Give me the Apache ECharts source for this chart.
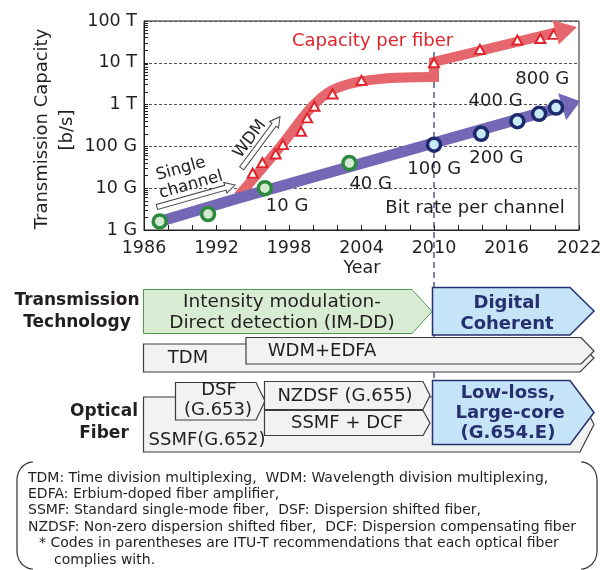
<!DOCTYPE html>
<html>
<head>
<meta charset="utf-8">
<script src="https://cdn.jsdelivr.net/npm/echarts@6.0.0/dist/echarts.min.js"></script>
<style>
  html, body { margin: 0; padding: 0; background: #fff; }
  #chart { width: 613px; height: 570px; }
</style>
</head>
<body>
<div id="chart"></div>
<script>
const FONT = "DejaVu Sans";
const INK = "#231f20";
const RED = "#e0242c";
const RED_BAND = "#e5676d";
const PURPLE = "#7367b6";
const NAVY = "#27306e";

// axes
const yearTicks = [1986, 1992, 1998, 2004, 2010, 2016, 2022];
const capacityTicks = [1e9, 1e10, 1e11, 1e12, 1e13, 1e14];
const capacityTickLabels = ["1 G", "10 G", "100 G", "1 T", "10 T", "100 T"];

// capacity per fiber (red triangles)
const fiberYears = [1995.0, 1995.8, 1996.9, 1997.5, 1999.0, 1999.5, 2000.1, 2001.6, 2004.0, 2010.0, 2013.8, 2016.9, 2018.8, 2019.9];
const fiberCapacity = [2.3e10, 4.1e10, 6.6e10, 1.1e11, 2.3e11, 4.8e11, 9.1e11, 1.8e12, 3.8e12, 1.0e13, 2.1e13, 3.5e13, 3.8e13, 4.8e13];

// red trend band: curved part, then the step at 2010 and the arrow
const fiberTrendYears = [1993.8, 1997.3, 1999.3, 2000.6, 2002.0, 2004.0, 2006.9, 2010.0];
const fiberTrendValues = [6.5e9, 1e11, 5.6e11, 1.4e12, 2.5e12, 3.6e12, 4.4e12, 4.6e12];
const fiberStepYears = [2010.0, 2010.0, 2020.05];
const fiberStepValues = [4.6e12, 1.05e13, 5.3e13];
const fiberArrowHead = [2020.95, 6.2e13];

// bit rate per channel
const imddYears = [1987.3, 1991.3, 1996.0, 2003.0];
const imddRates = [1.6e9, 2.4e9, 1e10, 4e10];
const imddLabels = ["", "", "10 G", "40 G"];
const coherentYears = [2010.0, 2013.9, 2016.9, 2018.7, 2020.1];
const coherentRates = [1.1e11, 2e11, 4e11, 6e11, 8.5e11];
const coherentLabels = ["100 G", "200 G", "400 G", "", "800 G"];
const rateTrendYears = [1987.3, 1994.0, 2020.65];
const rateTrendValues = [1.6e9, 6e9, 8.95e11];
const rateArrowHead = [2021.36, 1.03e12];

// where each rate label's centre sits relative to its circle centre (px)
const labelOffsets = {
  "10 G": [24, 20], "40 G": [23, 23], "100 G": [2, 26],
  "200 G": [17, 26], "400 G": [-20, -18], "800 G": [-12, -26]
};

const CIRCLE = 13;
const zip = (xs, ys) => xs.map((x, i) => [x, ys[i]]);

// log minor ticks 1..9 in every decade
const yTicks = [];
capacityTicks.forEach((v, i) => {
  if (i === capacityTicks.length - 1) { yTicks.push(v); return; }
  for (let k = 1; k < 10; k++) yTicks.push(v * k);
});

function pointsWithLabels(xs, ys, labels) {
  return xs.map((x, i) => {
    const lab = labels[i];
    if (!lab) return { value: [x, ys[i]], label: { show: false } };
    const off = labelOffsets[lab];
    return {
      value: [x, ys[i]],
      label: { show: true, formatter: lab, position: [CIRCLE / 2 + off[0], CIRCLE / 2 + off[1]] }
    };
  });
}

function arrowHead(color, size, from, to) {
  return {
    silent: true,
    animation: false,
    symbol: ["none", "triangle"],
    symbolSize: size,
    label: { show: false },
    lineStyle: { color: color, width: 1, type: "solid" },
    itemStyle: { color: color },
    emphasis: { disabled: true },
    data: [[{ coord: from }, { coord: to }]]
  };
}

const rateLabel = {
  fontSize: 18, color: INK, fontFamily: FONT, align: "center", verticalAlign: "middle",
  textBorderWidth: 0
};

const chart = echarts.init(document.getElementById("chart"));

const option = {
  animation: false,
  textStyle: { fontFamily: FONT, color: INK },
  grid: { left: 144, right: 34, top: 21, bottom: 340, show: true, borderColor: INK, borderWidth: 1 },
  xAxis: {
    type: "value", min: 1986, max: 2022, interval: 2,
    axisLine: { lineStyle: { color: INK } },
    axisTick: { inside: true, length: 5, lineStyle: { color: INK } },
    axisLabel: {
      fontSize: 17.5, color: INK, margin: 9, fontFamily: FONT,
      formatter: v => yearTicks.includes(v) ? String(v) : ""
    },
    splitLine: { show: false }
  },
  yAxis: [
    {
      type: "log", logBase: 10, min: 1e9, max: 1e14,
      axisLine: { lineStyle: { color: INK } },
      axisTick: { inside: true, length: 4, customValues: yTicks, lineStyle: { color: INK } },
      axisLabel: {
        fontSize: 17.5, color: INK, margin: 7, fontFamily: FONT,
        formatter: v => capacityTickLabels[Math.round(Math.log10(v)) - 9] || ""
      },
      splitLine: { show: false }
    },
    {
      // decade grid lines only
      type: "log", logBase: 10, min: 1e9, max: 1e14, position: "left",
      axisLine: { show: false }, axisTick: { show: false }, axisLabel: { show: false },
      splitLine: { show: true, lineStyle: { color: "#555", type: [3, 2], width: 1 } }
    }
  ],
  series: [
    {
      type: "line", data: zip(fiberTrendYears, fiberTrendValues), smooth: 0.45,
      symbol: "none", clip: false, silent: true, z: 2,
      lineStyle: { color: RED_BAND, width: 10, cap: "butt", join: "round" }
    },
    {
      type: "line", data: zip(fiberStepYears, fiberStepValues),
      symbol: "none", clip: false, silent: true, z: 2,
      lineStyle: { color: RED_BAND, width: 10, cap: "square", join: "miter" },
      markLine: arrowHead(RED_BAND, [25, 22], [fiberStepYears[2], fiberStepValues[2]], fiberArrowHead)
    },
    {
      type: "line", data: zip(rateTrendYears, rateTrendValues),
      symbol: "none", clip: false, silent: true, z: 3,
      lineStyle: { color: PURPLE, width: 11, cap: "butt", join: "round" },
      markLine: arrowHead(PURPLE, [28, 19], [rateTrendYears[2], rateTrendValues[2]], rateArrowHead)
    },
    {
      type: "scatter", data: zip(fiberYears, fiberCapacity), z: 4,
      symbol: "triangle", symbolSize: [10, 9], clip: false,
      itemStyle: { color: "#fff", borderColor: RED, borderWidth: 2, opacity: 1 }
    },
    {
      type: "scatter", data: pointsWithLabels(imddYears, imddRates, imddLabels), z: 5,
      symbol: "circle", symbolSize: CIRCLE, clip: false,
      itemStyle: { color: "#d4ead0", borderColor: "#2b8a3e", borderWidth: 3.5, opacity: 1 },
      label: rateLabel
    },
    {
      type: "scatter", data: pointsWithLabels(coherentYears, coherentRates, coherentLabels), z: 5,
      symbol: "circle", symbolSize: CIRCLE, clip: false,
      itemStyle: { color: "#c8e9f7", borderColor: "#1f2a6d", borderWidth: 3.5, opacity: 1 },
      label: rateLabel
    }
  ]
};
chart.setOption(option);

// ---- annotations and the technology diagram (graphic layer) ----
function text(x, y, s, o) {
  o = o || {};
  return {
    type: "text", x: x, y: y, z: o.z || 20, rotation: o.rotation || 0, silent: true,
    style: {
      text: s, fontFamily: FONT, fontSize: o.size || 18, fontWeight: o.weight || "normal",
      fill: o.color || INK, align: o.align || "center", verticalAlign: "middle"
    }
  };
}
function box(points, fill, stroke, lw) {
  return { type: "polygon", z: 10, silent: true, shape: { points: points }, style: { fill: fill, stroke: stroke, lineWidth: lw || 1.2 } };
}
function hollowArrow(x0, y0, x1, y1) {
  const len = Math.hypot(x1 - x0, y1 - y0);
  const ang = Math.atan2(y0 - y1, x1 - x0);
  const sw = 2.5, hw = 5.5, hl = 10;
  return {
    type: "polygon", x: x0, y: y0, rotation: ang, z: 20, silent: true,
    shape: { points: [[0, -sw], [len - hl, -sw], [len - hl, -hw], [len, 0], [len - hl, hw], [len - hl, sw], [0, sw]] },
    style: { fill: "#fff", stroke: "#444", lineWidth: 1 }
  };
}
function bracket(xEdge, xEnd, top, bottom, ry) {
  const rx = xEnd - xEdge;
  const pts = [];
  for (let k = 0; k <= 12; k++) {
    const t = Math.PI / 2 * k / 12;
    pts.push([xEnd - rx * Math.sin(t), top + ry - ry * Math.cos(t)]);
  }
  for (let k = 0; k <= 12; k++) {
    const t = Math.PI / 2 * k / 12;
    pts.push([xEdge + rx * (1 - Math.cos(t)), bottom - ry + ry * Math.sin(t)]);
  }
  return { type: "polyline", z: 10, silent: true, shape: { points: pts }, style: { fill: null, stroke: "#333", lineWidth: 1.2 } };
}

const GREEN_FILL = "#d8ecd3", GREEN_LINE = "#4d9a4f";
const BLUE_FILL = "#c5e4f7";
const GRAY_FILL = "#f2f2f2", GRAY_LINE = "#3c3c3c";

const x2010 = chart.convertToPixel({ xAxisIndex: 0 }, 2010);
const yStepTop = chart.convertToPixel({ yAxisIndex: 0 }, fiberStepValues[1]);

const rot = d => d * Math.PI / 180;

const elements = [
  // axis titles
  text(42, 129, "Transmission Capacity", { rotation: rot(90), size: 18 }),
  text(67, 130, "[b/s]", { rotation: rot(90), size: 18 }),
  text(362, 268, "Year", { size: 17.5 }),
  // chart annotations
  text(372.5, 41, "Capacity per fiber", { color: RED }),
  text(475, 208, "Bit rate per channel"),
  hollowArrow(157, 207, 235, 185),
  text(181, 169, "Single", { rotation: rot(16), size: 16.5 }),
  text(191, 185, "channel", { rotation: rot(16), size: 16.5 }),
  hollowArrow(241.7, 168.3, 280, 116.7),
  text(250, 139, "WDM", { rotation: rot(53), size: 16.5 }),
  // 2010 marker
  {
    type: "line", z: 1, silent: true,
    shape: { x1: x2010, y1: yStepTop - 10, x2: x2010, y2: 381 },
    style: { stroke: NAVY, lineWidth: 1.2, lineDash: [6, 4] }
  },
  // row labels
  text(77, 301, "Transmission", { weight: "bold", size: 17 }),
  text(77, 323, "Technology", { weight: "bold", size: 17 }),
  text(104, 412, "Optical", { weight: "bold", size: 17 }),
  text(104, 434, "Fiber", { weight: "bold", size: 17 }),
  // transmission technology row
  box([[143.5, 344], [580, 344], [594, 358], [580, 372], [143.5, 372]], GRAY_FILL, GRAY_LINE),
  text(188, 358, "TDM"),
  box([[246, 337.5], [581, 337.5], [594, 351], [581, 364], [246, 364]], GRAY_FILL, GRAY_LINE),
  text(322, 351, "WDM+EDFA"),
  box([[143.5, 289.5], [412, 289.5], [432, 311.5], [412, 333.5], [143.5, 333.5]], GREEN_FILL, GREEN_LINE, 1),
  text(282, 302, "Intensity modulation-", { size: 18.5 }),
  text(282, 323, "Direct detection (IM-DD)", { size: 18.5 }),
  box([[432.5, 287.5], [570, 287.5], [594, 311], [570, 335], [432.5, 335]], BLUE_FILL, NAVY, 1.5),
  text(507, 303, "Digital", { weight: "bold", color: NAVY }),
  text(507, 324, "Coherent", { weight: "bold", color: NAVY }),
  // optical fiber row
  box([[143.5, 397], [580, 397], [594, 424.5], [580, 452], [143.5, 452]], GRAY_FILL, GRAY_LINE),
  text(207, 440, "SSMF(G.652)"),
  box([[175.5, 382.5], [256, 382.5], [265, 401], [256, 420], [175.5, 420]], GRAY_FILL, GRAY_LINE),
  text(219, 390, "DSF"),
  text(218, 410, "(G.653)"),
  box([[264.5, 381.5], [423, 381.5], [430, 395.5], [423, 409.5], [264.5, 409.5]], GRAY_FILL, GRAY_LINE),
  text(345, 396, "NZDSF (G.655)"),
  box([[264.5, 410.5], [423, 410.5], [430, 423], [423, 435.5], [264.5, 435.5]], GRAY_FILL, GRAY_LINE),
  text(347, 423, "SSMF + DCF"),
  box([[432.5, 380.5], [570, 380.5], [594, 412.5], [570, 444.5], [432.5, 444.5]], BLUE_FILL, NAVY, 1.5),
  text(508, 393, "Low-loss,", { weight: "bold", color: NAVY }),
  text(510, 413, "Large-core", { weight: "bold", color: NAVY }),
  text(508, 433, "(G.654.E)", { weight: "bold", color: NAVY }),
  // footnote
  bracket(17, 33, 462, 569, 18),
  bracket(597, 581, 462, 569, 18)
];

const notes = [
  "TDM: Time division multiplexing,  WDM: Wavelength division multiplexing,",
  "EDFA: Erbium-doped fiber amplifier,",
  "SSMF: Standard single-mode fiber,  DSF: Dispersion shifted fiber,",
  "NZDSF: Non-zero dispersion shifted fiber,  DCF: Dispersion compensating fiber",
  "* Codes in parentheses are ITU-T recommendations that each optical fiber",
  "complies with."
];
const noteIndent = [28, 28, 28, 28, 39, 54];
notes.forEach((s, i) => {
  elements.push(text(noteIndent[i], 478 + 16.4 * i, s, { size: 14, align: "left" }));
});

chart.setOption({ graphic: { elements: elements } });
</script>
</body>
</html>
